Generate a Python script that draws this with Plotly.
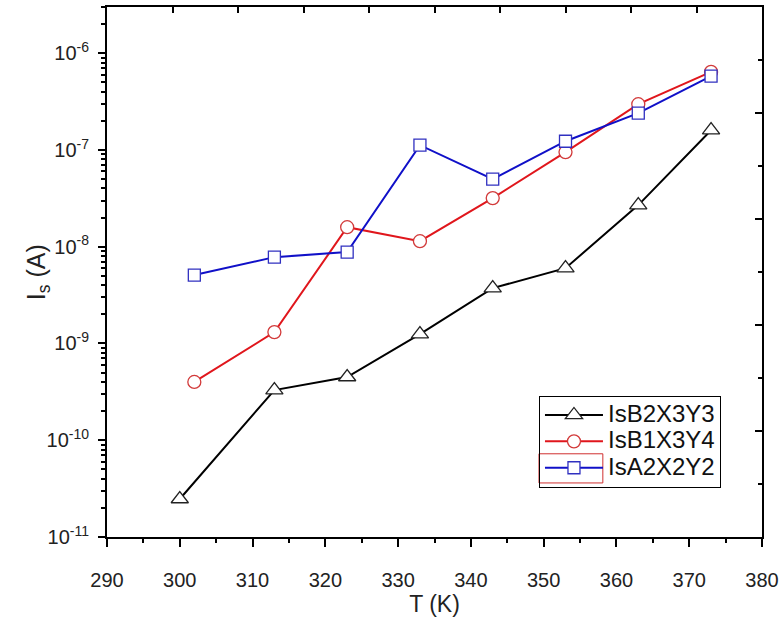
import plotly.graph_objects as go

# ---- data ----
T_black = [300, 313, 323, 333, 343, 353, 363, 373]
Is_B2X3Y3 = [2.47e-11, 3.3e-10, 4.5e-10, 1.25e-9, 3.73e-9, 6.0e-9, 2.69e-8, 1.6e-7]

T_red = [302, 313, 323, 333, 343, 353, 363, 373]
Is_B1X3Y4 = [4.0e-10, 1.31e-9, 1.59e-8, 1.14e-8, 3.18e-8, 9.5e-8, 2.97e-7, 6.4e-7]

T_blue = [302, 313, 323, 333, 343, 353, 363, 373]
Is_A2X2Y2 = [5.09e-9, 7.8e-9, 8.8e-9, 1.12e-7, 4.99e-8, 1.23e-7, 2.4e-7, 5.78e-7]

names = ["IsB2X3Y3", "IsB1X3Y4", "IsA2X2Y2"]

x_ticks = [290, 300, 310, 320, 330, 340, 350, 360, 370, 380]
y_tickvals = [1e-11, 1e-10, 1e-9, 1e-8, 1e-7, 1e-6]
y_ticktext = ["10<sup>-11</sup>", "10<sup>-10</sup>", "10<sup>-9</sup>",
              "10<sup>-8</sup>", "10<sup>-7</sup>", "10<sup>-6</sup>"]

FONT = "Liberation Sans, Arial, sans-serif"


def big(s):
    return "<span style='font-size:24px'>" + s + "</span>"


fig = go.Figure()
fig.add_trace(go.Scatter(
    x=T_black, y=Is_B2X3Y3, name=big(names[0]), mode="lines+markers",
    line=dict(color="#000000", width=2),
    marker=dict(symbol="triangle-up", size=15, color="white",
                line=dict(color="#222222", width=1.3))))
fig.add_trace(go.Scatter(
    x=T_red, y=Is_B1X3Y4, name=big(names[1]), mode="lines+markers",
    line=dict(color="#e0161c", width=2),
    marker=dict(symbol="circle", size=13, color="white",
                line=dict(color="#d23a3a", width=1.3))))
fig.add_trace(go.Scatter(
    x=T_blue, y=Is_A2X2Y2, name=big(names[2]), mode="lines+markers",
    line=dict(color="#1010c8", width=2),
    marker=dict(symbol="square", size=12, color="white",
                line=dict(color="#3030c0", width=1.3))))
# helper (empty) trace so the mirrored top/right frame axes are drawn
fig.add_trace(go.Scatter(x=[None], y=[None], xaxis="x2", yaxis="y2",
                         showlegend=False, hoverinfo="skip"))

fig.update_layout(
    width=780, height=617,
    margin=dict(l=107, r=18, t=7, b=80, autoexpand=False),
    paper_bgcolor="white", plot_bgcolor="white",
    font=dict(family=FONT, size=20, color="#222222"),
    showlegend=True,
    legend=dict(x=0.6595, y=0.2665, xanchor="left", yanchor="top",
                bordercolor="#000000", borderwidth=1,
                bgcolor="rgba(255,255,255,0)",
                font=dict(size=18, family=FONT, color="#111111"),
                itemwidth=58, tracegroupgap=0),
    xaxis=dict(range=[290, 380], tickvals=x_ticks, automargin=False,
               ticks="outside", ticklen=8, tickwidth=2, tickcolor="#000",
               ticklabelstandoff=16,
               minor=dict(ticks="outside", ticklen=4, tickwidth=2, dtick=5,
                          tickcolor="#000"),
               showline=True, linecolor="#000", linewidth=2,
               showgrid=False, zeroline=False,
               title=dict(text="T (K)", font=dict(size=23), standoff=14)),
    yaxis=dict(type="log", range=[-11, -5.5229], automargin=False,
               tickvals=y_tickvals, ticktext=y_ticktext,
               ticks="outside", ticklen=7, tickwidth=2, tickcolor="#000",
               ticklabelstandoff=5,
               minor=dict(ticks="outside", ticklen=4, tickwidth=1.5,
                          dtick="D1", tickcolor="#000"),
               showline=True, linecolor="#000", linewidth=2,
               showgrid=False, zeroline=False),
    xaxis2=dict(overlaying="x", side="top", anchor="y2", range=[0, 10],
                automargin=False,
                dtick=1, ticks="inside", ticklen=6, tickwidth=2,
                tickcolor="#000", showticklabels=False,
                showline=True, linecolor="#000", linewidth=2,
                showgrid=False, zeroline=False),
    yaxis2=dict(overlaying="y", side="right", anchor="x2", range=[0, 10],
                automargin=False,
                dtick=2, ticks="inside", ticklen=7, tickwidth=2,
                tickcolor="#000", showticklabels=False,
                minor=dict(ticks="inside", ticklen=4, tickwidth=2, dtick=1,
                           tickcolor="#000"),
                showline=True, linecolor="#000", linewidth=2,
                showgrid=False, zeroline=False),
    annotations=[dict(text="I<sub>s</sub> (A)", textangle=-90,
                      xref="paper", yref="paper", x=-0.105, y=0.5,
                      xanchor="center", yanchor="middle", showarrow=False,
                      font=dict(size=25, family=FONT, color="#222222"))],
    shapes=[dict(type="rect", xref="paper", yref="paper", layer="above",
                 x0=0.6595, x1=0.757, y0=0.102, y1=0.157,
                 line=dict(color="#d03030", width=1),
                 fillcolor="rgba(0,0,0,0)")],
)

fig.write_html("out.html",
               config={"displayModeBar": False},
               post_script="document.body.style.margin='0px';"
                           "document.body.style.overflow='hidden';")
